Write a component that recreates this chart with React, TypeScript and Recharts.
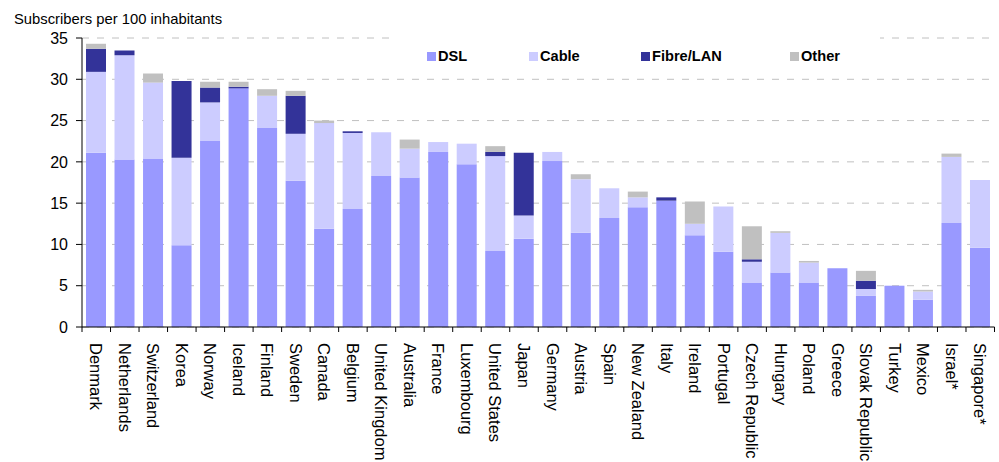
import { Bar, BarChart, CartesianGrid, XAxis, YAxis } from "recharts";

const countries = [
  "Denmark", "Netherlands", "Switzerland", "Korea", "Norway", "Iceland", "Finland", "Sweden",
  "Canada", "Belgium", "United Kingdom", "Australia", "France", "Luxembourg", "United States",
  "Japan", "Germany", "Austria", "Spain", "New Zealand", "Italy", "Ireland", "Portugal",
  "Czech Republic", "Hungary", "Poland", "Greece", "Slovak Republic", "Turkey", "Mexico",
  "Israel*", "Singapore*",
];

const dsl = [
  21.1, 20.3, 20.4, 9.9, 22.6, 28.9, 24.1, 17.7, 11.9, 14.3, 18.3, 18.1, 21.2, 19.7, 9.2, 10.7,
  20.1, 11.4, 13.2, 14.5, 15.3, 11.1, 9.1, 5.4, 6.6, 5.4, 7.1, 3.8, 5.0, 3.3, 12.6, 9.6,
];
const cable = [
  9.8, 12.6, 9.2, 10.6, 4.6, 0, 3.9, 5.7, 12.8, 9.2, 5.3, 3.5, 1.2, 2.5, 11.5, 2.8,
  1.1, 6.5, 3.6, 1.2, 0, 1.4, 5.5, 2.5, 4.8, 2.4, 0, 0.8, 0, 1.0, 8.0, 8.2,
];
const fibre = [
  2.8, 0.6, 0, 9.3, 1.8, 0.2, 0, 4.6, 0, 0.2, 0, 0, 0, 0, 0.5, 7.6,
  0, 0, 0, 0, 0.4, 0, 0, 0.3, 0, 0, 0, 1.0, 0, 0, 0, 0,
];
const other = [
  0.6, 0, 1.1, 0, 0.7, 0.6, 0.8, 0.6, 0.3, 0, 0, 1.1, 0, 0, 0.7, 0,
  0, 0.6, 0, 0.7, 0, 2.7, 0, 4.0, 0.2, 0.2, 0, 1.2, 0, 0.2, 0.4, 0,
];
const yTicks = [0, 5, 10, 15, 20, 25, 30, 35];

const series = [
  { key: "dsl", name: "DSL", color: "#9999FF" },
  { key: "cable", name: "Cable", color: "#CCCCFF" },
  { key: "fibre", name: "Fibre/LAN", color: "#333399" },
  { key: "other", name: "Other", color: "#C0C0C0" },
];

const rows = countries.map((country, i) => ({
  country,
  dsl: dsl[i],
  cable: cable[i],
  fibre: fibre[i],
  other: other[i],
}));

const FONT = "'Liberation Sans', Arial, sans-serif";
const PLOT_LEFT = 82;
const PLOT_RIGHT = 994.5;
const BAND = (PLOT_RIGHT - PLOT_LEFT) / countries.length;
const LEGEND_X = [427, 529, 641, 790];

function CountryTick(props: any) {
  const { x, y, payload, index } = props;
  const last = index === countries.length - 1;
  return (
    <g>
      <line x1={x - BAND / 2} y1={y} x2={x - BAND / 2} y2={y + 5} stroke="#000" />
      {last && <line x1={x + BAND / 2} y1={y} x2={x + BAND / 2} y2={y + 5} stroke="#000" />}
      <text
        transform={`translate(${x},${y + 16}) rotate(90)`}
        textAnchor="start"
        dominantBaseline="central"
        fontSize={16.5}
        fontFamily={FONT}
        fill="#000"
      >
        {payload.value}
      </text>
    </g>
  );
}

export default function App() {
  return (
    <div style={{ position: "relative", width: 999, height: 462, fontFamily: FONT }}>
      <style>{`body{margin:0}`}</style>
      <BarChart
        width={999}
        height={462}
        data={rows}
        margin={{ top: 38, right: 999 - PLOT_RIGHT, left: 0, bottom: 0 }}
      >
        <CartesianGrid vertical={false} stroke="#C0C0C0" strokeDasharray="7 8" />
        <XAxis
          dataKey="country"
          interval={0}
          height={135}
          tickSize={0}
          tickMargin={0}
          tickLine={false}
          axisLine={{ stroke: "#000" }}
          tick={<CountryTick />}
        />
        <YAxis
          width={PLOT_LEFT}
          domain={[0, 35]}
          ticks={yTicks}
          interval={0}
          tickSize={6}
          tickMargin={8}
          axisLine={{ stroke: "#000" }}
          tickLine={{ stroke: "#000" }}
          tick={{ fontSize: 16, fill: "#000", fontFamily: FONT }}
        />
        {series.map((s) => (
          <Bar
            key={s.key}
            dataKey={s.key}
            name={s.name}
            stackId="a"
            fill={s.color}
            barSize={20}
            isAnimationActive={false}
          />
        ))}
      </BarChart>
      <div
        style={{
          position: "absolute",
          left: 14,
          top: 12,
          fontSize: 14.8,
          lineHeight: "14px",
          color: "#000",
          whiteSpace: "nowrap",
        }}
      >
        Subscribers per 100 inhabitants
      </div>
      <div
        style={{
          position: "absolute",
          left: 396,
          top: 32,
          width: 484,
          height: 38,
          background: "#fff",
        }}
      />
      {series.map((s, i) => (
        <div
          key={s.key}
          style={{
            position: "absolute",
            left: LEGEND_X[i],
            top: 48,
            height: 16,
            display: "flex",
            alignItems: "center",
            fontSize: 14.6,
            fontWeight: "bold",
            color: "#000",
            whiteSpace: "nowrap",
          }}
        >
          <span style={{ width: 9, height: 9, background: s.color, marginRight: 2 }} />
          {s.name}
        </div>
      ))}
    </div>
  );
}
